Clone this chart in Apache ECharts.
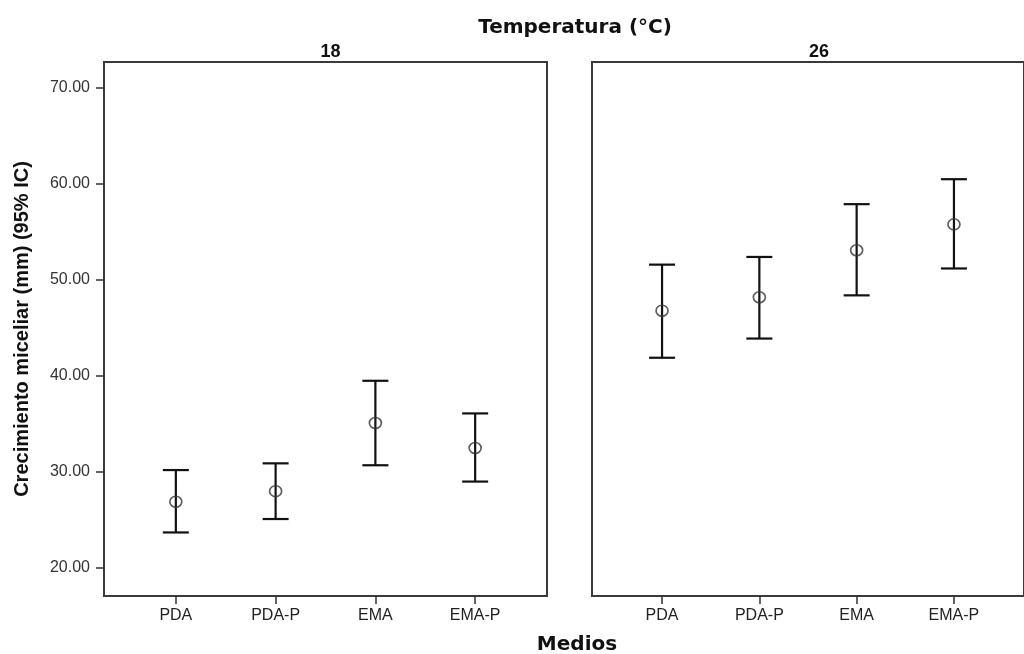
<!DOCTYPE html>
<html>
<head>
<meta charset="utf-8">
<script src="https://cdn.jsdelivr.net/npm/echarts@6/dist/echarts.min.js"></script>
<style>html,body{margin:0;padding:0;background:#fff}#c{width:1024px;height:654px}</style>
</head>
<body>
<div id="c"></div>
<script>
var categories = ['PDA', 'PDA-P', 'EMA', 'EMA-P'];
var panels = ['18', '26'];
var mean18 = [26.9, 28.0, 35.1, 32.5];
var lower18 = [23.7, 25.1, 30.7, 29.0];
var upper18 = [30.2, 30.9, 39.5, 36.1];
var mean26 = [46.8, 48.2, 53.1, 55.8];
var lower26 = [41.9, 43.9, 48.4, 51.2];
var upper26 = [51.6, 52.4, 57.9, 60.5];
var yTicks = [20, 30, 40, 50, 60, 70];

var chart = echarts.init(document.getElementById('c'), null, {renderer: 'canvas'});
var xPos = categories.map(function (c, i) { return i + 1; });

function meanData(m) { return m.map(function (v, i) { return [xPos[i], v]; }); }
function errData(lo, hi) { return lo.map(function (v, i) { return [xPos[i], v, hi[i]]; }); }

function renderErr(params, api) {
  var x = api.value(0);
  var lo = api.coord([x, api.value(1)]);
  var hi = api.coord([x, api.value(2)]);
  var hw = 13;
  var st = {stroke: '#111', lineWidth: 2.2};
  return {
    type: 'group',
    children: [
      {type: 'line', shape: {x1: lo[0], y1: lo[1], x2: hi[0], y2: hi[1]}, style: st},
      {type: 'line', shape: {x1: lo[0] - hw, y1: lo[1], x2: lo[0] + hw, y2: lo[1]}, style: st},
      {type: 'line', shape: {x1: hi[0] - hw, y1: hi[1], x2: hi[0] + hw, y2: hi[1]}, style: st}
    ]
  };
}

var ymin = 17.08, ymax = 72.71;
var xmin = 0.28, xmax = 4.72;
var labelFont = 'Liberation Sans, Arial, sans-serif';

function xAxisDef(idx) {
  return {
    type: 'value', gridIndex: idx, min: xmin, max: xmax,
    splitLine: {show: false},
    axisLine: {show: false},
    axisTick: {show: true, customValues: xPos, length: 8, lineStyle: {color: '#333', width: 1.5}},
    axisLabel: {
      customValues: xPos, margin: 12,
      color: '#222', fontSize: 16, fontFamily: labelFont,
      formatter: function (v) { return categories[Math.round(v) - 1] || ''; }
    }
  };
}

var option = {
  animation: false,
  backgroundColor: '#fff',
  title: [
    {text: 'Temperatura (°C)', left: 570, textAlign: 'center', top: 13,
     textStyle: {fontFamily: 'DejaVu Sans, sans-serif', fontWeight: 'bold', fontSize: 20, color: '#111'}},
    {text: panels[0], left: 325.5, textAlign: 'center', top: 38,
     textStyle: {fontFamily: 'Liberation Sans Narrow, Liberation Sans, Arial, sans-serif', fontWeight: 'bold', fontSize: 18, color: '#111'}},
    {text: panels[1], left: 814, textAlign: 'center', top: 38,
     textStyle: {fontFamily: 'Liberation Sans Narrow, Liberation Sans, Arial, sans-serif', fontWeight: 'bold', fontSize: 18, color: '#111'}},
    {text: 'Medios', left: 572, textAlign: 'center', top: 630,
     textStyle: {fontFamily: 'DejaVu Sans, sans-serif', fontWeight: 'bold', fontSize: 20, color: '#111'}}
  ],
  grid: [
    {left: 104, top: 62, width: 443, height: 534, show: true, borderColor: '#3a3a3a', borderWidth: 2, backgroundColor: 'transparent'},
    {left: 592, top: 62, width: 443, height: 534, show: true, borderColor: '#3a3a3a', borderWidth: 2, backgroundColor: 'transparent'}
  ],
  xAxis: [xAxisDef(0), xAxisDef(1)],
  yAxis: [
    {
      type: 'value', gridIndex: 0, min: ymin, max: ymax,
      splitLine: {show: false},
      axisLine: {show: false},
      axisTick: {show: true, customValues: yTicks, length: 8, lineStyle: {color: '#333', width: 1.5}},
      axisLabel: {customValues: yTicks, margin: 14, color: '#333', fontSize: 16,
        fontFamily: labelFont,
        formatter: function (v) { return v.toFixed(2); }},
      name: 'Crecimiento miceliar (mm) (95% IC)',
      nameLocation: 'middle', nameGap: 72, nameRotate: 90,
      nameTextStyle: {fontFamily: 'Liberation Sans Narrow, Liberation Sans, Arial, sans-serif', fontWeight: 'bold', fontSize: 20, color: '#111'}
    },
    {
      type: 'value', gridIndex: 1, min: ymin, max: ymax,
      splitLine: {show: false}, axisLine: {show: false},
      axisTick: {show: false}, axisLabel: {show: false}
    }
  ],
  series: [
    {type: 'custom', xAxisIndex: 0, yAxisIndex: 0, renderItem: renderErr, data: errData(lower18, upper18), z: 2},
    {type: 'custom', xAxisIndex: 1, yAxisIndex: 1, renderItem: renderErr, data: errData(lower26, upper26), z: 2},
    {type: 'scatter', xAxisIndex: 0, yAxisIndex: 0, data: meanData(mean18), symbol: 'circle', symbolSize: [12, 11],
     itemStyle: {color: 'rgba(0,0,0,0)', borderColor: '#333', borderWidth: 1.6}, z: 3},
    {type: 'scatter', xAxisIndex: 1, yAxisIndex: 1, data: meanData(mean26), symbol: 'circle', symbolSize: [12, 11],
     itemStyle: {color: 'rgba(0,0,0,0)', borderColor: '#333', borderWidth: 1.6}, z: 3}
  ]
};
chart.setOption(option);
</script>
</body>
</html>
